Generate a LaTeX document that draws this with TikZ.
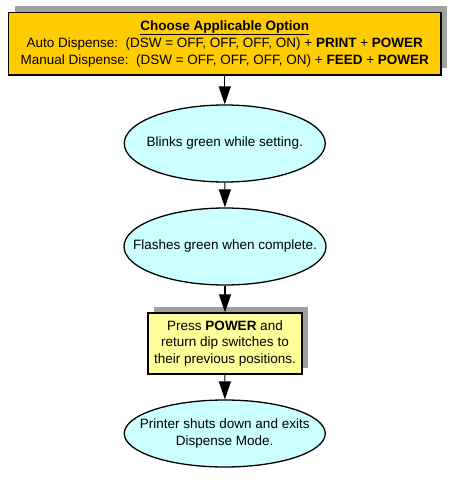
\documentclass[tikz,border=0pt]{standalone}
\usepackage{fontspec}
\setmainfont{Liberation Sans}
\usetikzlibrary{shapes.geometric,arrows.meta,shadows}
\definecolor{goldfill}{HTML}{FFCC00}
\definecolor{cyanfill}{HTML}{CCFFFF}
\definecolor{yellowfill}{HTML}{FFFF99}
\definecolor{shadowgray}{HTML}{A0A0A0}
\tikzset{
  txt/.style={font=\fontsize{13.5}{16.8}\selectfont, align=center, text=black},
  sbox/.style={txt, rectangle, draw=black, line width=1.5pt, inner sep=0pt,
    drop shadow={shadow xshift=6pt, shadow yshift=6.5pt, opacity=1, fill=shadowgray}},
  oval/.style={txt, ellipse, draw=black, line width=1.3pt, fill=cyanfill, inner xsep=-45pt, inner ysep=0pt},
  arr/.style={draw=black, line width=1.1pt, -{Triangle[length=18pt,width=12pt]}}
}
\begin{document}
\begin{tikzpicture}[x=1pt,y=-1pt]
\useasboundingbox[fill=white] (0,0) rectangle (456,489);
\node[sbox, fill=goldfill, minimum width=432.5pt, minimum height=62.5pt] (b1) at (224.75,43.75)
  {\underline{\textbf{Choose Applicable Option}}\\
   Auto Dispense:\ \ (DSW = OFF, OFF, OFF, ON) + \textbf{PRINT} + \textbf{POWER}\\
   Manual Dispense:\ \ (DSW = OFF, OFF, OFF, ON) + \textbf{FEED} + \textbf{POWER}};
\node[oval, minimum width=201pt, minimum height=77pt] (e1) at (224.75,143.5) {Blinks green while setting.};
\node[oval, minimum width=202pt, minimum height=77pt] (e2) at (225,246.5) {Flashes green when complete.};
\node[sbox, fill=yellowfill, minimum width=154pt, minimum height=61pt] (b2) at (225,343.5)
  {Press \textbf{POWER} and\\return dip switches to\\their previous positions.};
\node[oval, minimum width=201pt, minimum height=67pt] (e3) at (224.75,433.5) {Printer shuts down and exits\\Dispense Mode.};
\draw[arr] (b1) -- (e1);
\draw[arr] (e1) -- (e2);
\draw[arr] (e2) -- (b2);
\draw[arr] (b2) -- (e3);
\end{tikzpicture}
\end{document}
